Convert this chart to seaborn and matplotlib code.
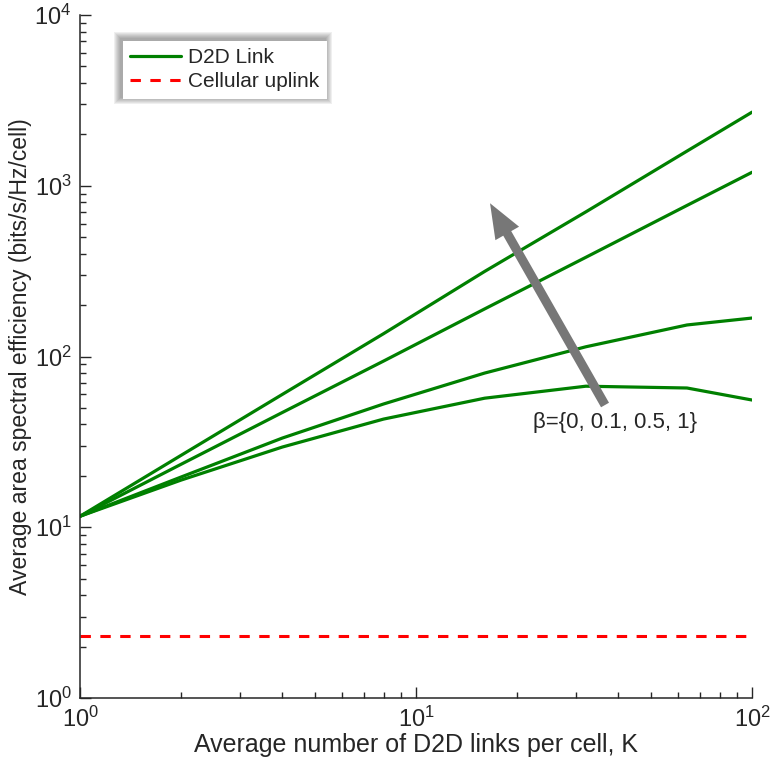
import matplotlib
matplotlib.use("Agg")
import matplotlib.pyplot as plt
import seaborn as sns
import pandas as pd
import numpy as np
from matplotlib.lines import Line2D
from matplotlib.patches import Rectangle, FancyArrowPatch
from matplotlib.transforms import IdentityTransform

sns.set_theme(style="white")
plt.rcParams['font.family'] = ['Liberation Sans', 'DejaVu Sans']

# Data
K = [1, 2, 4, 8, 16, 32, 64, 100]
beta_labels = ["0", "0.1", "0.5", "1"]
ase_beta0 = [11.6, 26.4, 60, 136, 315, 703, 1596, 2700]
ase_beta01 = [11.6, 23.4, 47, 94, 190, 381, 767, 1200]
ase_beta05 = [11.6, 19.7, 33.3, 52.7, 80, 114, 153, 168]
ase_beta1 = [11.6, 18.9, 29.5, 43, 57, 67, 65.4, 55.6]
cell_K = [1, 100]
cell_ase = [2.3, 2.3]

series = [ase_beta0, ase_beta01, ase_beta05, ase_beta1]
df = pd.DataFrame({
    "K": K * 4,
    "ase": sum(series, []),
    "beta": sum([[b] * len(K) for b in beta_labels], []),
})
df_cell = pd.DataFrame({"K": cell_K, "ase": cell_ase})

green = "#008000"
dark = "#262626"
fig = plt.figure(figsize=(7.71, 7.70), dpi=100)
ax = fig.add_axes([0.1038, 0.0935, 0.8717, 0.887])

sns.lineplot(data=df, x="K", y="ase", hue="beta", palette=[green] * 4,
             linewidth=2.3, legend=False, ax=ax, sort=False)
sns.lineplot(data=df_cell, x="K", y="ase", color="red", linewidth=2.2,
             legend=False, ax=ax)
ax.lines[-1].set_dashes([3.4, 3.1])

ax.set_xscale("log")
ax.set_yscale("log")
ax.set_xlim(1, 100)
ax.set_ylim(1, 1e4)

for s in ["top", "right"]:
    ax.spines[s].set_visible(False)
for s in ["left", "bottom"]:
    ax.spines[s].set_color(dark)
    ax.spines[s].set_linewidth(1.1)

ax.tick_params(which="major", direction="in", length=8, width=1.0,
               color=dark, labelsize=17, labelcolor=dark, pad=6)
ax.tick_params(which="minor", direction="in", length=4.5, width=1.0,
               color=dark)
ax.tick_params(axis="both", which="both", left=True, bottom=True)

ax.set_xlabel("Average number of D2D links per cell, K", fontsize=18,
              color=dark, labelpad=1)
ax.set_ylabel("Average area spectral efficiency (bits/s/Hz/cell)", fontsize=16.6,
              color=dark, labelpad=2)

# Arrow and annotation
arrow = FancyArrowPatch((36.5, 52), (16.6, 790),
                        arrowstyle="simple,head_length=1.25,head_width=0.98,tail_width=0.33",
                        mutation_scale=20, color="#777777", lw=0,
                        shrinkA=0, shrinkB=0, zorder=3)
ax.add_patch(arrow)
ax.text(22.3, 40.8, "β={0, 0.1, 0.5, 1}", fontsize=16, color=dark,
        ha="left", va="center")

handles = [Line2D([0], [0], color=green, lw=2.3),
           Line2D([0], [0], color="red", lw=2.2, dashes=[3.4, 3.1])]
leg = ax.legend(handles, ["D2D Link", "Cellular uplink"], loc="upper left",
                bbox_to_anchor=(0.064, 0.962), fontsize=15, frameon=True,
                fancybox=False, handlelength=2.45, handletextpad=0.33,
                borderpad=0.35, labelspacing=0.25, borderaxespad=0)
leg.get_frame().set_edgecolor("white")
leg.get_frame().set_facecolor("white")
leg.get_frame().set_linewidth(0)
leg.get_frame().set_alpha(1)

# soft shadow glow behind the legend
fig.canvas.draw()
bb = leg.get_frame().get_window_extent()
for r in range(1, 8):
    ax.add_patch(Rectangle((bb.x0 - 2 - r, bb.y0 + 2 - r),
                           bb.width + 2 * r, bb.height + 2 * r,
                           transform=IdentityTransform(), facecolor="#555555",
                           edgecolor="none", alpha=0.09, zorder=4.5,
                           clip_on=False))

fig.savefig("out.png", dpi=100)
